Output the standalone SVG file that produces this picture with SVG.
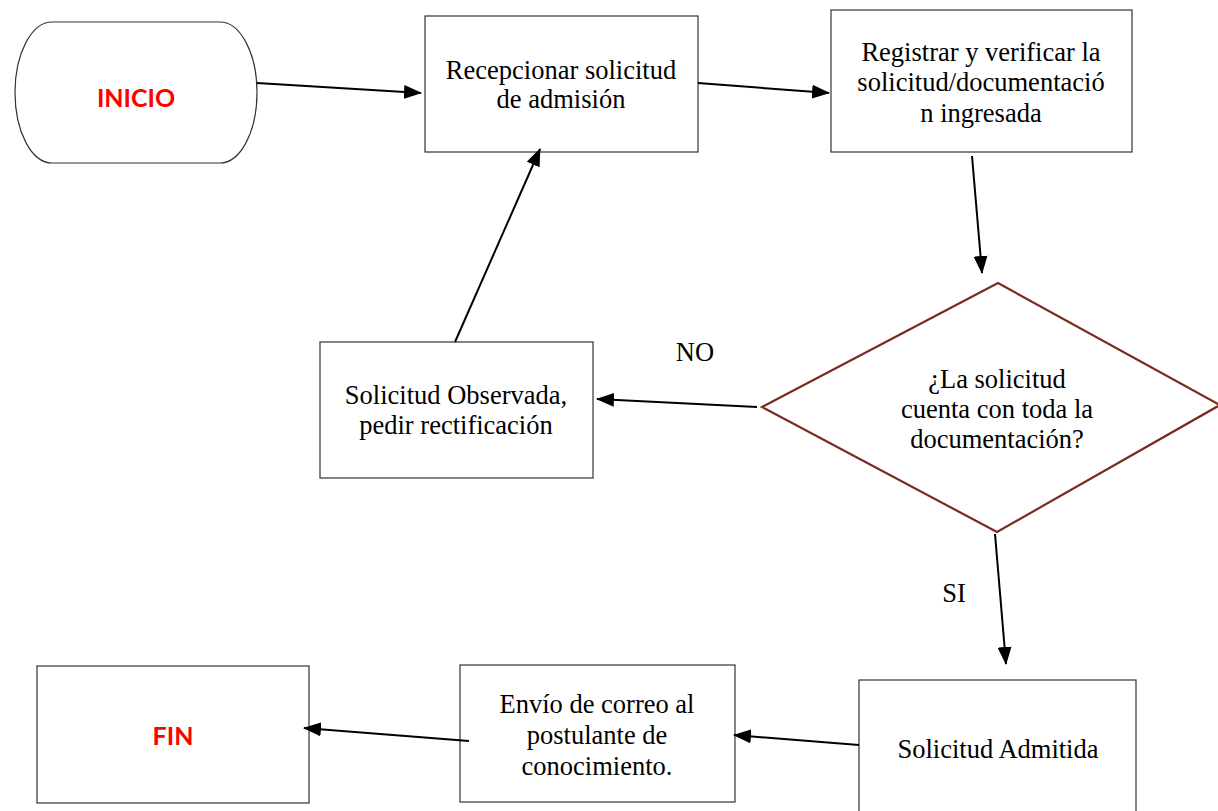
<svg xmlns="http://www.w3.org/2000/svg" width="1218" height="811" viewBox="0 0 1218 811">
<style>
.box{fill:#fff;stroke:#333;stroke-width:1.2}
.dia{fill:#fff;stroke:#7a2a20;stroke-width:2.2}
.t{font-family:'Liberation Serif','Times New Roman',serif;font-size:26.5px;fill:#000;text-anchor:middle}
.r{font-family:Lato,'Open Sans',sans-serif;font-weight:bold;font-size:25px;fill:#ff0000;text-anchor:middle}
.c{stroke:#000;stroke-width:2;fill:none;marker-end:url(#ah)}
</style>
<defs>
<marker id="ah" markerUnits="userSpaceOnUse" markerWidth="18" markerHeight="14" refX="17" refY="7" orient="auto">
<path d="M0,0 L18,7 L0,14 Z" fill="#000"/>
</marker>
</defs>
<rect width="1218" height="811" fill="#fff"/>
<g id="inicio">
<path class="box" d="M52,22 H220 A37,70.5 0 0 1 220,163 H52 A37,70.5 0 0 1 52,22 Z"/>
<text class="r" x="136" y="107">INICIO</text>
</g>
<g id="recepcionar">
<rect class="box" x="425" y="16" width="273" height="136"/>
<text class="t" x="561" y="79">Recepcionar solicitud</text>
<text class="t" x="561" y="108">de admisión</text>
</g>
<g id="registrar">
<rect class="box" x="831" y="10" width="301" height="142"/>
<text class="t" x="981" y="61">Registrar y verificar la</text>
<text class="t" x="981" y="91">solicitud/documentació</text>
<text class="t" x="981" y="122">n ingresada</text>
</g>
<g id="decision">
<polygon class="dia" points="998,283 1220,405 997,532 762,407"/>
<text class="t" x="997" y="388">¿La solicitud</text>
<text class="t" x="997" y="418">cuenta con toda la</text>
<text class="t" x="997" y="448">documentación?</text>
</g>
<g id="label-no"><text class="t" x="695" y="361">NO</text></g>
<g id="label-si"><text class="t" x="954" y="602">SI</text></g>
<g id="observada">
<rect class="box" x="320" y="342" width="273" height="136"/>
<text class="t" x="456" y="404">Solicitud Observada,</text>
<text class="t" x="456" y="434">pedir rectificación</text>
</g>
<g id="admitida">
<rect class="box" x="859" y="680" width="277" height="140"/>
<text class="t" x="998" y="758">Solicitud Admitida</text>
</g>
<g id="envio">
<rect class="box" x="460" y="665" width="275" height="137"/>
<text class="t" x="597" y="713">Envío de correo al</text>
<text class="t" x="597" y="744">postulante de</text>
<text class="t" x="597" y="775">conocimiento.</text>
</g>
<g id="fin">
<rect class="box" x="37" y="666" width="272" height="137"/>
<text class="r" x="173" y="745">FIN</text>
</g>
<g id="connectors">
<line class="c" x1="257" y1="83" x2="421" y2="93"/>
<line class="c" x1="698" y1="83" x2="829" y2="93"/>
<line class="c" x1="972" y1="156" x2="982" y2="273"/>
<line class="c" x1="757" y1="407" x2="597" y2="399"/>
<line class="c" x1="455" y1="342" x2="540" y2="149"/>
<line class="c" x1="995" y1="534" x2="1006" y2="664"/>
<line class="c" x1="859" y1="745" x2="734" y2="735"/>
<line class="c" x1="469" y1="741" x2="304" y2="728"/>
</g>
</svg>
